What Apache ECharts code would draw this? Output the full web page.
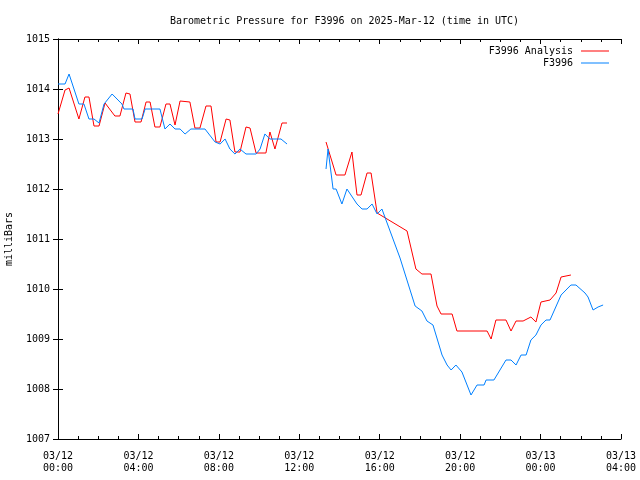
<!DOCTYPE html>
<html>
<head>
<meta charset="utf-8">
<script src="https://cdn.jsdelivr.net/npm/echarts@6/dist/echarts.min.js"></script>
<style>html,body{margin:0;padding:0;background:#fff}#c{width:640px;height:480px}</style>
</head>
<body>
<div id="c"></div>
<script>
// hours since 2025-03-12 00:00 UTC; null marks the data gap
const analysisTimes = [0.00,0.35,0.55,1.04,1.34,1.54,1.79,2.04,2.34,2.83,3.08,3.38,3.58,3.83,4.13,4.38,4.58,4.82,5.07,5.37,5.57,5.82,6.07,6.56,6.81,7.06,7.36,7.61,7.86,8.06,8.36,8.55,8.80,9.05,9.35,9.55,9.85,10.34,10.54,10.79,11.14,11.39,
  12.3,
  13.33,13.83,14.27,14.62,14.87,15.07,15.37,15.57,15.87,17.36,17.80,18.10,18.55,18.85,19.05,19.60,19.84,21.34,21.54,21.78,22.28,22.53,22.78,23.13,23.52,23.77,24.02,24.47,24.77,25.02,25.51];
const analysisValues = [1013.50,1013.98,1014.02,1013.40,1013.84,1013.84,1013.26,1013.26,1013.72,1013.46,1013.46,1013.92,1013.90,1013.34,1013.34,1013.74,1013.74,1013.24,1013.24,1013.70,1013.70,1013.28,1013.76,1013.74,1013.22,1013.22,1013.66,1013.66,1012.94,1012.94,1013.40,1013.38,1012.74,1012.74,1013.24,1013.22,1012.72,1012.72,1013.14,1012.80,1013.32,1013.32,
  null,
  1012.94,1012.28,1012.28,1012.74,1011.88,1011.88,1012.32,1012.32,1011.52,1011.16,1010.40,1010.30,1010.30,1009.66,1009.50,1009.50,1009.16,1009.16,1009.00,1009.38,1009.38,1009.16,1009.36,1009.36,1009.44,1009.34,1009.74,1009.78,1009.92,1010.24,1010.28];

const obsTimes = [0.00,0.35,0.55,1.04,1.29,1.54,1.79,2.04,2.29,2.69,3.18,3.28,3.73,3.83,4.18,4.33,5.07,5.32,5.57,5.82,6.07,6.32,6.61,7.31,7.81,8.06,8.31,8.55,8.80,9.05,9.35,9.85,10.05,10.29,10.54,11.09,11.39,
  12.3,
  13.33,13.43,13.68,13.83,14.12,14.37,14.87,15.12,15.37,15.62,15.87,16.11,17.01,17.76,18.10,18.35,18.65,19.10,19.35,19.55,19.79,20.09,20.54,20.84,21.19,21.29,21.68,22.28,22.53,22.78,23.03,23.28,23.52,23.77,24.02,24.27,24.47,25.02,25.51,25.76,26.21,26.36,26.61,26.86,27.11];
const obsValues = [1014.10,1014.10,1014.30,1013.70,1013.70,1013.40,1013.40,1013.32,1013.70,1013.90,1013.70,1013.60,1013.60,1013.40,1013.40,1013.60,1013.60,1013.20,1013.30,1013.20,1013.20,1013.10,1013.20,1013.20,1012.94,1012.90,1013.00,1012.80,1012.70,1012.80,1012.70,1012.70,1012.80,1013.10,1013.00,1013.00,1012.90,
  null,
  1012.40,1012.80,1012.00,1012.00,1011.70,1012.00,1011.70,1011.60,1011.60,1011.70,1011.50,1011.60,1010.62,1009.66,1009.56,1009.36,1009.28,1008.68,1008.48,1008.38,1008.48,1008.34,1007.88,1008.08,1008.08,1008.18,1008.18,1008.58,1008.58,1008.48,1008.68,1008.68,1008.98,1009.08,1009.28,1009.38,1009.38,1009.88,1010.08,1010.08,1009.92,1009.84,1009.58,1009.64,1009.68];

const xTickHours = [0,4,8,12,16,20,24,28];
const yTicks = [1007,1008,1009,1010,1011,1012,1013,1014,1015];

function zip(t, v){ return t.map((x,i)=> v[i]===null ? [x,'-'] : [x, v[i]]); }
function fmtHour(h){
  const day = h >= 24 ? '03/13' : '03/12';
  const hh = String(h % 24).padStart(2,'0');
  return day + '\n' + hh + ':00';
}
const FONT = 'DejaVu Sans Mono';
const chart = echarts.init(document.getElementById('c'), null, {renderer:'canvas'});
const axisLine = {show:true, lineStyle:{color:'#000', width:1}};
chart.setOption({
  animation:false,
  backgroundColor:'#fff',
  title:{text:'Barometric Pressure for F3996 on 2025-Mar-12 (time in UTC)', left:339.5, textAlign:'center', top:11,
    textStyle:{fontFamily:FONT, fontSize:10, fontWeight:'normal', color:'#000'}},
  legend:{orient:'vertical', right:26, top:40, align:'right', icon:'rect', itemWidth:28, itemHeight:1, itemGap:0,
    textStyle:{fontFamily:FONT, fontSize:10, color:'#000', lineHeight:12, padding:[0,3,0,0]},
    data:['F3996 Analysis','F3996']},
  grid:{left:58, right:19, top:39, bottom:41, containLabel:false, outerBoundsMode:'none'},
  xAxis:[{type:'value', min:0, max:28, interval:4, position:'bottom',
    axisLine:axisLine, axisTick:{show:true, inside:true, length:5, lineStyle:{color:'#000'}},
    minorTick:{show:true, splitNumber:4, length:3, lineStyle:{color:'#000'}},
    splitLine:{show:false},
    axisLabel:{fontFamily:FONT, fontSize:10, color:'#000', margin:11, lineHeight:12,
      formatter:(v)=> xTickHours.includes(v) ? fmtHour(v) : ''}},
   {type:'value', min:0, max:28, interval:4, position:'top',
    axisLine:axisLine, axisTick:{show:true, inside:true, length:5, lineStyle:{color:'#000'}},
    minorTick:{show:true, splitNumber:4, length:3, lineStyle:{color:'#000'}},
    splitLine:{show:false}, axisLabel:{show:false}}],
  yAxis:[{type:'value', min:1007, max:1015, interval:1, position:'left',
    name:'milliBars', nameLocation:'middle', nameGap:44, nameRotate:90,
    nameTextStyle:{fontFamily:FONT, fontSize:10, color:'#000'},
    axisLine:axisLine, axisTick:{show:true, inside:true, length:5, lineStyle:{color:'#000'}},
    splitLine:{show:false},
    axisLabel:{fontFamily:FONT, fontSize:10, color:'#000', margin:8,
      formatter:(v)=> yTicks.includes(v) ? String(v) : ''}},
   {type:'value', min:1007, max:1015, interval:1, position:'right',
    axisLine:axisLine, axisTick:{show:true, inside:true, length:5, lineStyle:{color:'#000'}},
    splitLine:{show:false}, axisLabel:{show:false}}],
  series:[
    {name:'F3996 Analysis', type:'line', xAxisIndex:0, yAxisIndex:0, symbol:'none', showSymbol:false,
     connectNulls:false, lineStyle:{color:'#ff0000', width:1}, itemStyle:{color:'#ff0000'},
     data:zip(analysisTimes, analysisValues)},
    {name:'F3996', type:'line', xAxisIndex:0, yAxisIndex:0, symbol:'none', showSymbol:false,
     connectNulls:false, lineStyle:{color:'#0080ff', width:1}, itemStyle:{color:'#0080ff'},
     data:zip(obsTimes, obsValues)}
  ]
});
</script>
</body>
</html>
